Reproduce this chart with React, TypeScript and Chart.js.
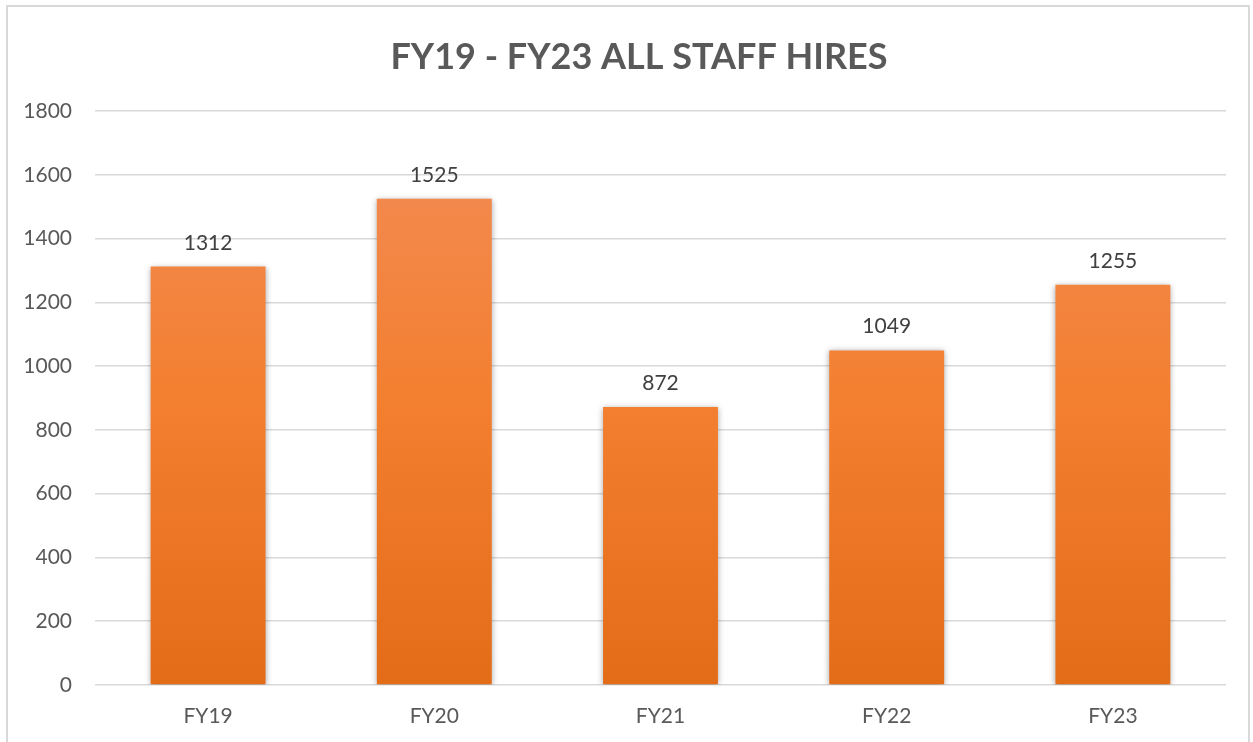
import React, { useEffect, useRef } from "react";
import { Chart, registerables } from "chart.js";

Chart.register(...registerables);

const categories = ["FY19", "FY20", "FY21", "FY22", "FY23"];
const hires = [1312, 1525, 872, 1049, 1255];
const yTicks = [0, 200, 400, 600, 800, 1000, 1200, 1400, 1600, 1800];
const titleText = "FY19 - FY23 ALL STAFF HIRES";

const FONT = "Lato, 'Open Sans', sans-serif";

const shadowPlugin = {
  id: "barShadow",
  beforeDatasetsDraw(chart: any) {
    const ctx = chart.ctx;
    ctx.save();
    ctx.shadowColor = "rgba(0,0,0,0.35)";
    ctx.shadowBlur = 6;
    ctx.shadowOffsetX = 0;
    ctx.shadowOffsetY = 1;
  },
  afterDatasetsDraw(chart: any) {
    chart.ctx.restore();
    const ctx = chart.ctx;
    const meta = chart.getDatasetMeta(0);
    ctx.save();
    ctx.font = `21px ${FONT}`;
    ctx.fillStyle = "#404040";
    ctx.textAlign = "center";
    ctx.textBaseline = "alphabetic";
    meta.data.forEach((el: any, i: number) => {
      ctx.fillText(String(chart.data.datasets[0].data[i]), el.x, el.y - 17);
    });
    ctx.restore();
  },
};

// Title centred on the whole chart frame (not just the plot area)
const titlePlugin = {
  id: "frameTitle",
  afterDraw(chart: any) {
    const ctx = chart.ctx;
    ctx.save();
    ctx.font = `bold 36px ${FONT}`;
    ctx.fillStyle = "#595959";
    ctx.textAlign = "center";
    ctx.textBaseline = "middle";
    ctx.fillText(titleText, 631, 50);
    ctx.restore();
  },
};

export default function App() {
  const ref = useRef<HTMLCanvasElement>(null);
  useEffect(() => {
    const canvas = ref.current!;
    const chart = new Chart(canvas, {
      type: "bar",
      data: {
        labels: categories,
        datasets: [
          {
            data: hires,
            backgroundColor: (c: any) => {
              const { chart } = c;
              const area = chart.chartArea;
              if (!area) return "#ED7D31";
              const el = c.element;
              const top = el && typeof el.y === "number" ? el.y : area.top;
              const g = chart.ctx.createLinearGradient(0, top, 0, area.bottom);
              g.addColorStop(0, "#F28D58");
              g.addColorStop(0.5, "#F37F30");
              g.addColorStop(1, "#E36C18");
              return g;
            },
            borderWidth: 0,
            barPercentage: 1,
            categoryPercentage: 0.508,
          },
        ],
      },
      options: {
        animation: false,
        responsive: false,
        layout: { padding: { left: 0, right: 22, top: 104, bottom: 0 } },
        plugins: {
          legend: { display: false },
          tooltip: { enabled: false },
          title: { display: false },
        },
        scales: {
          x: {
            grid: { display: false, drawTicks: false },
            border: { display: false },
            afterFit: (axis: any) => {
              axis.height = 57;
            },
            ticks: { color: "#595959", font: { family: FONT, size: 21 }, padding: 19 },
          },
          y: {
            min: 0,
            max: 1800,
            afterBuildTicks: (axis: any) => {
              axis.ticks = yTicks.map((v) => ({ value: v }));
            },
            afterFit: (axis: any) => {
              axis.width = 87;
            },
            grid: { color: "#d9d9d9", lineWidth: 1.5, drawTicks: false },
            border: { display: false },
            ticks: {
              color: "#595959",
              font: { family: FONT, size: 21 },
              padding: 23,
              callback: (v: any) => String(v),
            },
          },
        },
      },
      plugins: [shadowPlugin, titlePlugin],
    });
    return () => chart.destroy();
  }, []);

  return (
    <div
      style={{
        position: "absolute",
        left: 6,
        top: 5,
        width: 1244,
        height: 760,
        border: "2px solid #d9d9d9",
        background: "#fff",
        boxSizing: "border-box",
      }}
    >
      <canvas ref={ref} width={1240} height={735} style={{ display: "block" }} />
    </div>
  );
}
